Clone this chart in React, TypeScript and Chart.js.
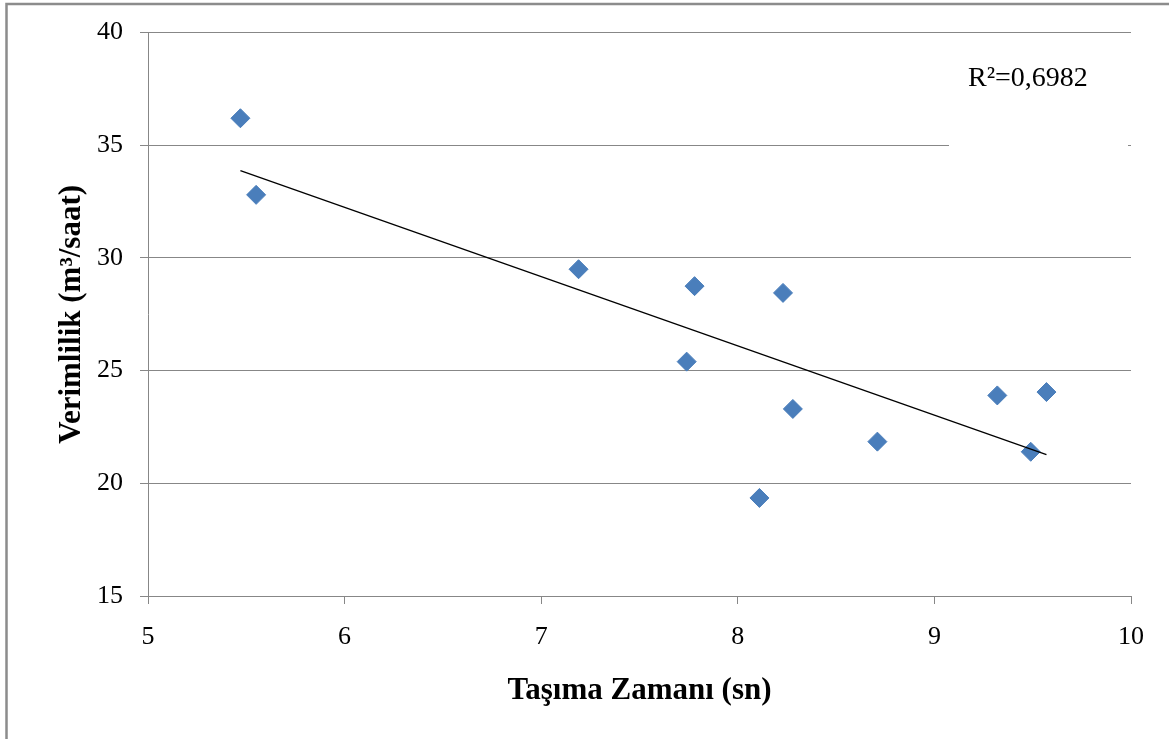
import React, { useEffect, useRef } from 'react';
import { Chart, registerables } from 'chart.js';

Chart.register(...registerables);

// Data
const tasimaZamani: number[] = [5.47, 5.55, 7.19, 7.78, 7.74, 8.23, 8.28, 8.11, 8.71, 9.32, 9.49, 9.57];
const verimlilik: number[] = [36.2, 32.8, 29.5, 28.75, 25.4, 28.45, 23.3, 19.35, 21.85, 23.9, 21.4, 24.05];
const xTicks: number[] = [5, 6, 7, 8, 9, 10];
const yTicks: number[] = [15, 20, 25, 30, 35, 40];
const xTitle = 'Taşıma Zamanı (sn)';
const yTitle = 'Verimlilik (m³/saat)';
const r2Label = 'R²=0,6982';

function linearFit(xs: number[], ys: number[]) {
  const n = xs.length;
  const mx = xs.reduce((a, b) => a + b, 0) / n;
  const my = ys.reduce((a, b) => a + b, 0) / n;
  let sxy = 0;
  let sxx = 0;
  for (let i = 0; i < n; i++) {
    sxy += (xs[i] - mx) * (ys[i] - my);
    sxx += (xs[i] - mx) * (xs[i] - mx);
  }
  const slope = sxy / sxx;
  return { slope, intercept: my - slope * mx };
}

const FONT = "'Liberation Serif', 'Times New Roman', serif";

export default function App() {
  const ref = useRef<HTMLCanvasElement | null>(null);

  useEffect(() => {
    document.body.style.margin = '0';
    const canvas = ref.current;
    if (!canvas) return;
    const fit = linearFit(tasimaZamani, verimlilik);
    const xmin = Math.min(...tasimaZamani);
    const xmax = Math.max(...tasimaZamani);
    const trend = [
      { x: xmin, y: fit.intercept + fit.slope * xmin },
      { x: xmax, y: fit.intercept + fit.slope * xmax },
    ];
    const points = tasimaZamani.map((x, i) => ({ x, y: verimlilik[i] }));

    const framePlugin = {
      id: 'frame',
      beforeDraw(chart: any) {
        const ctx = chart.ctx;
        ctx.save();
        ctx.fillStyle = '#ffffff';
        ctx.fillRect(0, 0, chart.width, chart.height);
        ctx.strokeStyle = '#8c8c8c';
        ctx.lineWidth = 2.5;
        ctx.beginPath();
        ctx.moveTo(6.5, chart.height);
        ctx.lineTo(6.5, 4);
        ctx.lineTo(chart.width, 4);
        ctx.stroke();
        ctx.restore();
      },
      beforeDatasetsDraw(chart: any) {
        const ctx = chart.ctx;
        ctx.save();
        ctx.fillStyle = '#ffffff';
        ctx.fillRect(949, 50, 179, 100);
        ctx.restore();
      },
      afterDraw(chart: any) {
        const ctx = chart.ctx;
        ctx.save();
        ctx.fillStyle = '#000000';
        ctx.font = `28px ${FONT}`;
        ctx.textBaseline = 'alphabetic';
        ctx.textAlign = 'left';
        ctx.fillText(r2Label, 968, 86);
        ctx.restore();
      },
    };

    const chart = new Chart(canvas, {
      type: 'scatter',
      data: {
        datasets: [
          {
            type: 'line',
            label: 'Trend',
            data: trend,
            borderColor: '#000000',
            borderWidth: 1.3,
            pointRadius: 0,
            showLine: true,
            fill: false,
          } as any,
          {
            label: 'Verimlilik',
            data: points,
            pointStyle: 'rectRot',
            pointRadius: 9.5,
            backgroundColor: '#4A7EBB',
            borderColor: '#4A7EBB',
            borderWidth: 1,
          },
        ],
      },
      plugins: [framePlugin],
      options: {
        responsive: false,
        animation: false,
        devicePixelRatio: 1,
        layout: { padding: { top: 32, right: 38, left: 0, bottom: 0 } },
        plugins: {
          legend: { display: false },
          tooltip: { enabled: false },
        },
        scales: {
          x: {
            type: 'linear',
            min: 5,
            max: 10,
            afterFit: (s: any) => { s.height = 143; },
            afterBuildTicks: (s: any) => { s.ticks = xTicks.map((v) => ({ value: v })); },
            ticks: {
              color: '#000',
              font: { family: FONT, size: 26 },
              padding: 18,
              maxRotation: 0,
            },
            grid: {
              drawOnChartArea: false,
              drawTicks: true,
              tickLength: 8,
              color: '#878787',
              lineWidth: 1,
            },
            border: { display: true, color: '#878787', width: 1 },
            title: {
              display: true,
              text: xTitle,
              color: '#000',
              font: { family: FONT, size: 31, weight: 'bold', lineHeight: 1.2 },
              padding: { top: 0, bottom: 29 },
            },
          },
          y: {
            type: 'linear',
            min: 15,
            max: 40,
            afterFit: (s: any) => { s.width = 148; },
            afterBuildTicks: (s: any) => { s.ticks = yTicks.map((v) => ({ value: v })); },
            ticks: {
              color: '#000',
              font: { family: FONT, size: 26 },
              padding: 17,
            },
            grid: {
              drawOnChartArea: true,
              drawTicks: true,
              tickLength: 8,
              color: '#878787',
              lineWidth: 1,
            },
            border: { display: true, color: '#878787', width: 1 },
            title: {
              display: true,
              text: yTitle,
              color: '#000',
              font: { family: FONT, size: 31, weight: 'bold', lineHeight: 1.2 },
              padding: { top: 53, bottom: 0 },
            },
          },
        },
      },
    });
    return () => chart.destroy();
  }, []);

  return (
    <div style={{ width: 1169, height: 739 }}>
      <canvas ref={ref} width={1169} height={739} style={{ display: 'block', width: 1169, height: 739 }} />
    </div>
  );
}
